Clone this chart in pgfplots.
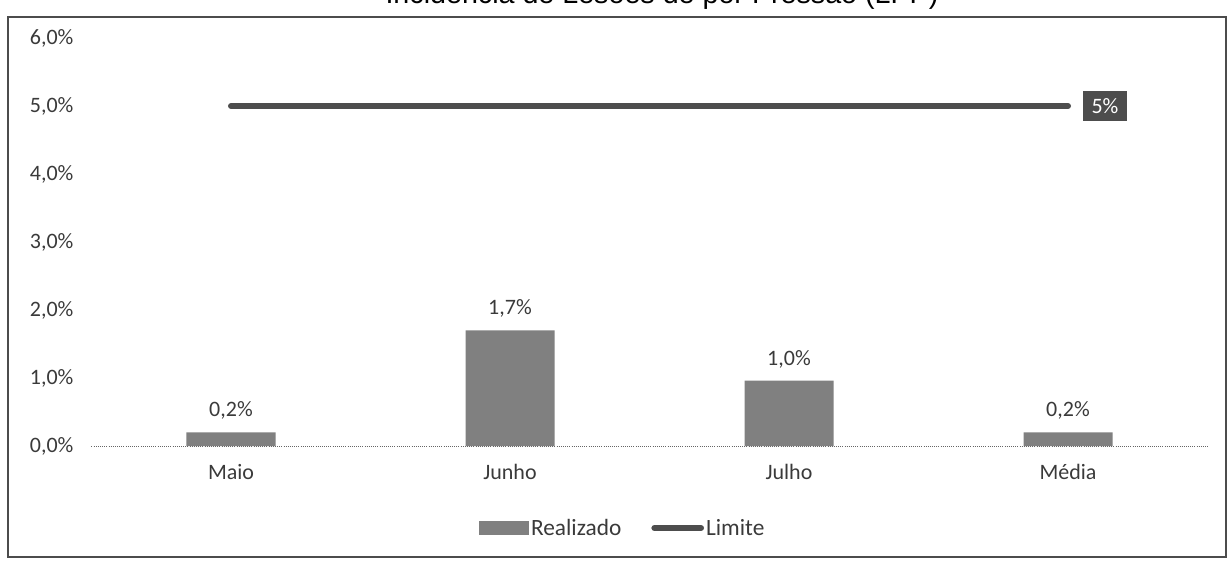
\documentclass[border=0pt]{standalone}
\usepackage{pgfplots}
\pgfplotsset{compat=1.18}
\usepackage{fontspec}
\setmainfont{Carlito}
\newfontfamily\titlefont{Liberation Sans}
\definecolor{barc}{HTML}{808080}
\definecolor{linec}{HTML}{4D4D4D}
\definecolor{txt}{HTML}{3A3A3A}
\begin{document}
\begin{tikzpicture}
\useasboundingbox (0pt,0pt) rectangle (921.75pt,421.5pt);
\clip (0pt,0pt) rectangle (921.75pt,421.5pt);
\draw[line width=1.1pt, black!70] (6pt,3.75pt) rectangle (919.5pt,408.75pt);
\node[anchor=base, font=\titlefont\fontsize{21.5}{25}\selectfont, text=black, inner sep=0pt] at (496.5pt,418.5pt) {Incidência de Lesões de por Pressão (LPP)};
\begin{axis}[
  at={(68.625pt,87pt)}, anchor=south west, scale only axis,
  width=837pt, height=306pt,
  xmin=-0.5, xmax=3.5, ymin=0, ymax=6,
  ytick={0,1,...,6}, xtick={0,1,2,3}, xticklabels={Maio,Junho,Julho,Média},
  axis line style={draw=none}, tick style={draw=none},
  /pgf/number format/assume math mode=true,
  yticklabel={\pgfmathprintnumber[fixed,fixed zerofill,precision=1,use comma]{\tick}\%},
  ticklabel style={font=\fontsize{16.5}{19}\selectfont, text=txt},
  yticklabel style={xshift=-10pt},
  xticklabel style={yshift=-10pt},
  clip=false,
  legend style={at={(0.476,-0.201)}, anchor=center, draw=none, fill=none,
    legend columns=2, font=\fontsize{17.5}{20}\selectfont, text=txt,
    nodes={inner sep=1.5pt},
    /tikz/every even column/.append style={column sep=21pt}},
]
\addplot[ybar, bar width=66.75pt, fill=barc, draw=none,
  nodes near coords={\pgfmathprintnumber[fixed,fixed zerofill,precision=1,use comma]{\pgfplotspointmeta}\%},
  every node near coord/.append style={font=\fontsize{16.5}{19}\selectfont, text=txt, yshift=6pt},
  legend image code/.code={\fill[barc] (0pt,-5.25pt) rectangle (37.5pt,5.25pt);}]
  coordinates {(0,0.2) (1,1.7) (2,0.96) (3,0.2)};
\addlegendentry{Realizado}
\addplot[linec, line width=4.5pt, line cap=round,
  legend image code/.code={\draw[linec, line width=4.5pt, line cap=round] (2pt,0pt) -- (37pt,0pt);}]
  coordinates {(0,5) (3,5)};
\addlegendentry{Limite}
\draw[densely dotted, black!60, line width=0.6pt] (axis cs:-0.5,0) -- (axis cs:3.5,0);
\node[fill=linec, text=white, anchor=west, minimum width=33pt, minimum height=22.5pt, inner sep=0pt, font=\fontsize{16.5}{19}\selectfont] at (axis cs:3,5) [xshift=11pt] {5\%};
\end{axis}
\end{tikzpicture}
\end{document}
